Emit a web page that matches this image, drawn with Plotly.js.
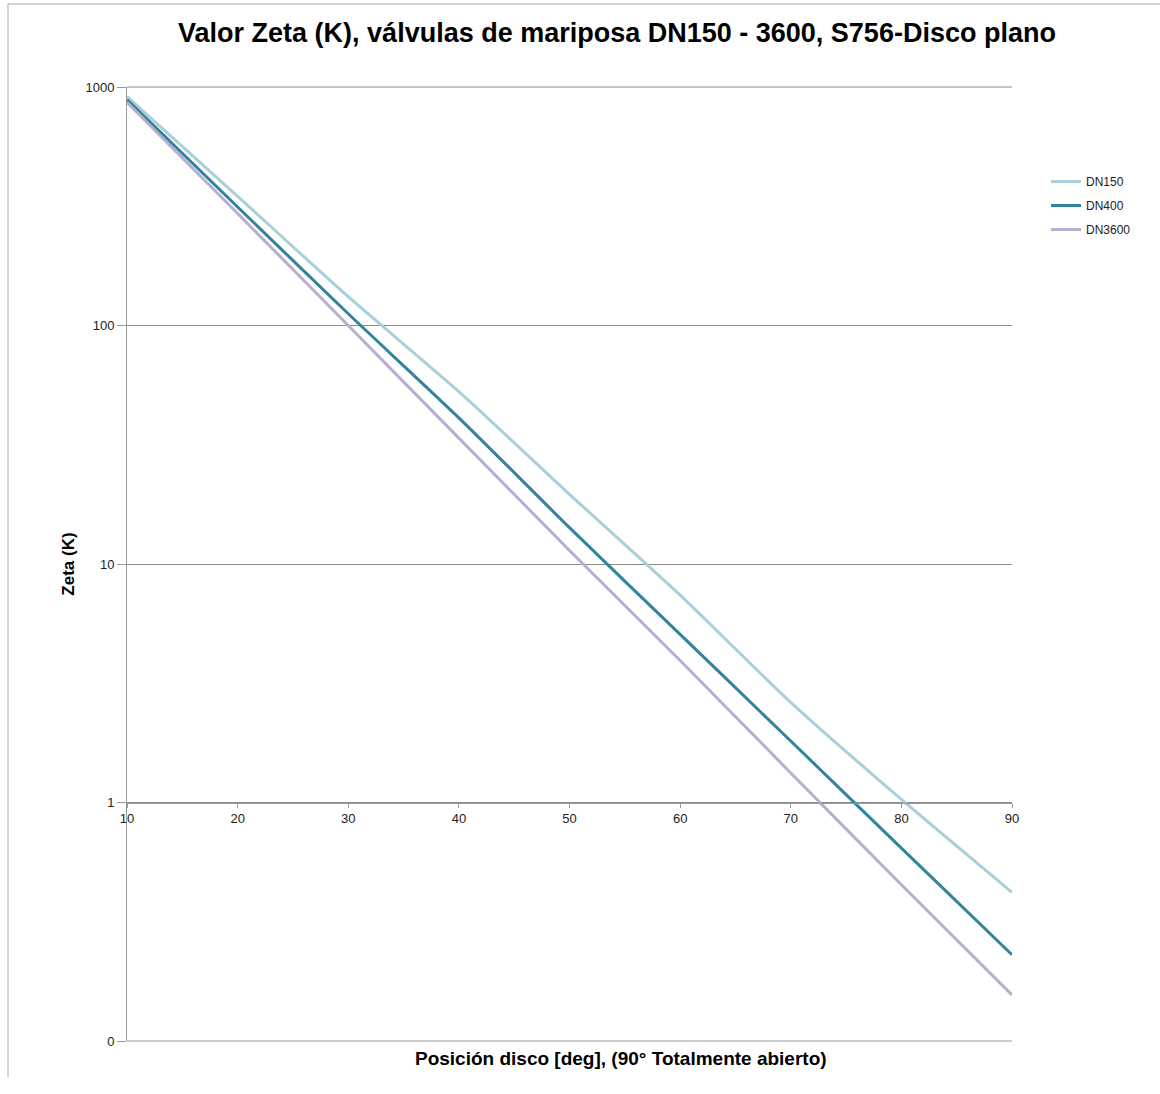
<!DOCTYPE html>
<html>
<head>
<meta charset="utf-8">
<script src="https://cdn.plot.ly/plotly-3.0.1.min.js"></script>
<style>html,body{margin:0;padding:0;background:#fff}#chart{width:1160px;height:1094px}</style>
</head>
<body>
<div id="chart"></div>
<script>
const positions = [10, 20, 30, 40, 50, 60, 70, 80, 90];
const dn150 = [912, 348, 132, 52.8, 19.6, 7.4, 2.63, 1.03, 0.42];
const dn400 = [885, 314, 112, 41.0, 14.2, 5.07, 1.81, 0.644, 0.23];
const dn3600 = [862, 295, 100, 33.7, 11.4, 3.94, 1.33, 0.452, 0.156];
const seriesNames = ["DN150", "DN400", "DN3600"];
const yTickVals = [0.1, 1, 10, 100, 1000];
const yTickText = ["0", "1", "10", "100", "1000"];
const xTickVals = [10, 20, 30, 40, 50, 60, 70, 80, 90];

const colors = ["#A9CFDA", "#31849B", "#B8AED1"];
const allSeries = [dn150, dn400, dn3600];
const traces = allSeries.map((s, i) => ({
  x: positions, y: s, name: seriesNames[i], legendgroup: "g" + i, type: "scatter", mode: "lines",
  line: {color: colors[i], width: 3, shape: "spline", smoothing: 0.6}
}));

const L = 127, R = 1012, T = 87, B = 1041;
const px = v => (v - L) / (R - L);
const py = v => (B - v) / (B - T);
const font = "Liberation Sans, Arial, Helvetica, sans-serif";

const layout = {
  width: 1160, height: 1094,
  margin: {l: L, r: 1160 - R, t: T, b: 1094 - B},
  paper_bgcolor: "#fff", plot_bgcolor: "#fff",
  font: {family: font, color: "#222", size: 13},
  title: {text: "<b>Valor Zeta (K), válvulas de mariposa DN150 - 3600, S756-Disco plano</b>",
          font: {size: 27, color: "#000", family: font}, x: px(617), xref: "paper", xanchor: "center",
          y: 1 - 33/1094, yref: "container", yanchor: "middle"},
  showlegend: true,
  legend: {x: px(1046), y: py(167), xanchor: "left", yanchor: "top", font: {size: 12, color: "#222", family: font},
           bgcolor: "rgba(0,0,0,0)", tracegroupgap: 5, itemwidth: 30},
  xaxis: {range: [10, 90], anchor: "free", position: 0.25, tickvals: xTickVals,
          showgrid: false, zeroline: false, showline: true, linecolor: "#999", linewidth: 1,
          ticks: "outside", ticklen: 4, tickcolor: "#999", tickfont: {size: 13, color: "#222"}},
  yaxis: {type: "log", range: [-1, 3], tickvals: yTickVals, ticktext: yTickText,
          showgrid: true, gridcolor: "#8c8c8c", gridwidth: 1, zeroline: false,
          showline: true, linecolor: "#999", linewidth: 1, ticks: "outside", ticklen: 9, tickcolor: "#999",
          tickfont: {size: 13, color: "#222"},
          title: {text: "<b>Zeta (K)</b>", font: {size: 17, color: "#000", family: font}, standoff: 6}},
  shapes: [
    {type: "line", xref: "paper", yref: "paper", x0: 0, x1: 1, y0: 0, y1: 0, line: {color: "#999", width: 1}},
    {type: "line", xref: "paper", yref: "paper", x0: 0, x1: 1, y0: 1, y1: 1, line: {color: "#8c8c8c", width: 1}},
    {type: "line", xref: "paper", yref: "paper", x0: px(8), x1: px(8), y0: py(4), y1: py(1077), line: {color: "#aaa", width: 1}},
    {type: "line", xref: "paper", yref: "paper", x0: px(8), x1: px(1165), y0: py(4), y1: py(4), line: {color: "#aaa", width: 1}}
  ],
  annotations: [
    {text: "<b>Posición disco [deg], (90° Totalmente abierto)</b>", xref: "paper", yref: "paper",
     x: px(621), y: py(1058), xanchor: "center", yanchor: "middle", showarrow: false,
     font: {size: 19, color: "#000", family: font}}
  ]
};

Plotly.newPlot("chart", traces, layout, {displayModeBar: false, staticPlot: true});
</script>
</body>
</html>
